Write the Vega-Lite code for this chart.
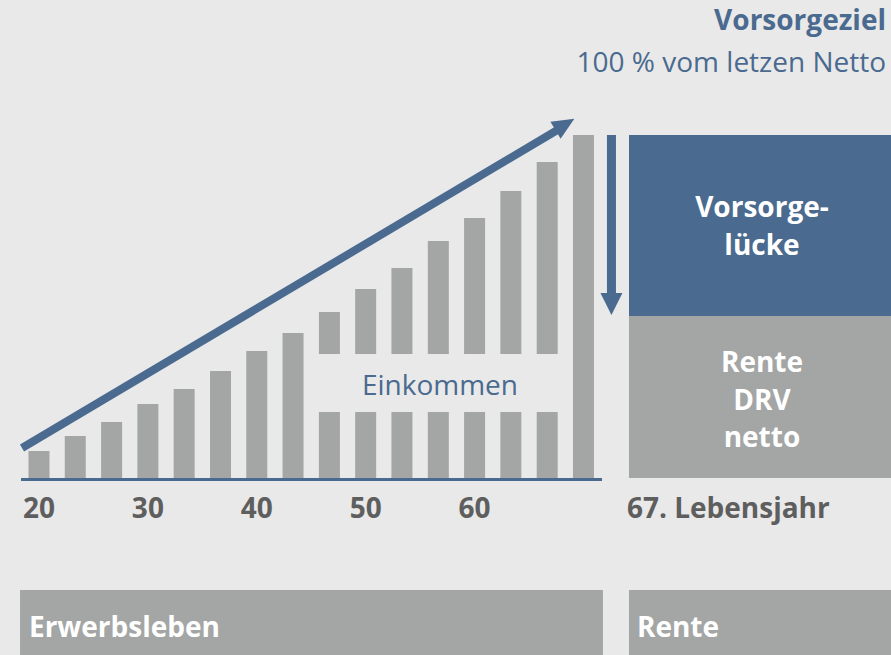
{
  "$schema": "https://vega.github.io/schema/vega-lite/v6.json",
  "width": 891,
  "height": 655,
  "autosize": {"type": "none"},
  "padding": 0,
  "background": "#e9e9e9",
  "config": {"view": {"stroke": null}},
  "datasets": {
    "bars": [
      {"age": 20, "lo": 0, "hi": 27},
      {"age": 23.33, "lo": 0, "hi": 42},
      {"age": 26.67, "lo": 0, "hi": 56},
      {"age": 30, "lo": 0, "hi": 74},
      {"age": 33.33, "lo": 0, "hi": 89},
      {"age": 36.67, "lo": 0, "hi": 107},
      {"age": 40, "lo": 0, "hi": 127},
      {"age": 43.33, "lo": 0, "hi": 145},
      {"age": 46.67, "lo": 0, "hi": 66},
      {"age": 46.67, "lo": 124, "hi": 166},
      {"age": 50, "lo": 0, "hi": 66},
      {"age": 50, "lo": 124, "hi": 189},
      {"age": 53.33, "lo": 0, "hi": 66},
      {"age": 53.33, "lo": 124, "hi": 210},
      {"age": 56.67, "lo": 0, "hi": 66},
      {"age": 56.67, "lo": 124, "hi": 237},
      {"age": 60, "lo": 0, "hi": 66},
      {"age": 60, "lo": 124, "hi": 260},
      {"age": 63.33, "lo": 0, "hi": 66},
      {"age": 63.33, "lo": 124, "hi": 287},
      {"age": 66.67, "lo": 0, "hi": 66},
      {"age": 66.67, "lo": 124, "hi": 316},
      {"age": 70, "lo": 0, "hi": 343}
    ],
    "panels": [
      {"name": "Vorsorgelücke", "kind": "blue", "x1": 74.18, "x2": 99, "y1": 162, "y2": 343},
      {"name": "Rente DRV netto", "kind": "gray", "x1": 74.18, "x2": 99, "y1": 0, "y2": 162},
      {"name": "Erwerbsleben", "kind": "gray", "x1": 18.26, "x2": 71.79, "y1": -112, "y2": -180},
      {"name": "Rente", "kind": "gray", "x1": 74.18, "x2": 99, "y1": -112, "y2": -180}
    ],
    "lines": [
      {"kind": "base", "x1": 18.35, "y1": -1.5, "x2": 71.7, "y2": -1.5},
      {"kind": "up", "x1": 18.44, "y1": 30, "x2": 67.84, "y2": 349.5},
      {"kind": "down", "x1": 72.57, "y1": 343, "x2": 72.57, "y2": 180}
    ],
    "heads": [
      {"kind": "up", "x": 68.3, "y": 353.5},
      {"kind": "down", "x": 72.57, "y": 174}
    ],
    "texts": [
      {"grp": "tick", "x": 20, "y": -40, "label": "20"},
      {"grp": "tick", "x": 30, "y": -40, "label": "30"},
      {"grp": "tick", "x": 40, "y": -40, "label": "40"},
      {"grp": "tick", "x": 50, "y": -40, "label": "50"},
      {"grp": "tick", "x": 60, "y": -40, "label": "60"},
      {"grp": "tickleft", "x": 73.99, "y": -40, "label": "67. Lebensjahr"},
      {"grp": "panel", "x": 86.39, "y": 261, "label": "Vorsorge-"},
      {"grp": "panel", "x": 86.39, "y": 223, "label": "lücke"},
      {"grp": "panel", "x": 86.39, "y": 106, "label": "Rente"},
      {"grp": "panel", "x": 86.39, "y": 68, "label": "DRV"},
      {"grp": "panel", "x": 86.39, "y": 31, "label": "netto"},
      {"grp": "bottom", "x": 19.08, "y": -159, "label": "Erwerbsleben"},
      {"grp": "bottom", "x": 74.91, "y": -159, "label": "Rente"},
      {"grp": "inner", "x": 56.82, "y": 83, "label": "Einkommen"},
      {"grp": "goal", "x": 97.78, "y": 448, "label": "Vorsorgeziel"},
      {"grp": "goalsub", "x": 97.78, "y": 406, "label": "100 % vom letzen Netto"}
    ]
  },
  "layer": [
    {
      "data": {"name": "panels"},
      "mark": {"type": "rect"},
      "encoding": {
        "x": {"field": "x1", "type": "quantitative", "scale": {"domain": [16.42, 98.24], "nice": false, "zero": false, "padding": 0}, "axis": null},
        "x2": {"field": "x2"},
        "y": {"field": "y1", "type": "quantitative", "scale": {"domain": [-177, 478], "nice": false, "zero": false, "padding": 0}, "axis": null},
        "y2": {"field": "y2"},
        "color": {"field": "kind", "type": "nominal", "scale": {"domain": ["blue", "gray"], "range": ["#4a6a8f", "#a3a6a5"]}, "legend": null}
      }
    },
    {
      "data": {"name": "bars"},
      "mark": {"type": "bar", "color": "#a3a6a5", "size": 21},
      "encoding": {
        "x": {"field": "age", "type": "quantitative", "axis": null},
        "y": {"field": "lo", "type": "quantitative", "axis": null},
        "y2": {"field": "hi"}
      }
    },
    {
      "data": {"name": "lines"},
      "transform": [{"filter": "datum.kind === 'base'"}],
      "mark": {"type": "rule", "color": "#4a6a8f", "strokeWidth": 3},
      "encoding": {
        "x": {"field": "x1", "type": "quantitative"},
        "x2": {"field": "x2"},
        "y": {"field": "y1", "type": "quantitative"},
        "y2": {"field": "y2"}
      }
    },
    {
      "data": {"name": "lines"},
      "transform": [{"filter": "datum.kind === 'up'"}],
      "mark": {"type": "rule", "color": "#4a6a8f", "strokeWidth": 8},
      "encoding": {
        "x": {"field": "x1", "type": "quantitative"},
        "x2": {"field": "x2"},
        "y": {"field": "y1", "type": "quantitative"},
        "y2": {"field": "y2"}
      }
    },
    {
      "data": {"name": "lines"},
      "transform": [{"filter": "datum.kind === 'down'"}],
      "mark": {"type": "rule", "color": "#4a6a8f", "strokeWidth": 9},
      "encoding": {
        "x": {"field": "x1", "type": "quantitative"},
        "x2": {"field": "x2"},
        "y": {"field": "y1", "type": "quantitative"},
        "y2": {"field": "y2"}
      }
    },
    {
      "data": {"name": "heads"},
      "transform": [{"filter": "datum.kind === 'up'"}],
      "mark": {"type": "point", "filled": true, "color": "#4a6a8f", "opacity": 1, "size": 484, "shape": "M0,-1L-0.9,1L0.9,1Z", "angle": 59, "strokeWidth": 0},
      "encoding": {
        "x": {"field": "x", "type": "quantitative"},
        "y": {"field": "y", "type": "quantitative"}
      }
    },
    {
      "data": {"name": "heads"},
      "transform": [{"filter": "datum.kind === 'down'"}],
      "mark": {"type": "point", "filled": true, "color": "#4a6a8f", "opacity": 1, "size": 484, "shape": "M0,-1L-1,1L1,1Z", "angle": 180, "strokeWidth": 0},
      "encoding": {
        "x": {"field": "x", "type": "quantitative"},
        "y": {"field": "y", "type": "quantitative"}
      }
    },
    {
      "data": {"name": "texts"},
      "transform": [{"filter": "datum.grp === 'tick'"}],
      "mark": {"type": "text", "font": "Open Sans", "fontWeight": "bold", "fontSize": 28, "color": "#5e5e5e", "align": "center", "baseline": "alphabetic"},
      "encoding": {
        "x": {"field": "x", "type": "quantitative"},
        "y": {"field": "y", "type": "quantitative"},
        "text": {"field": "label"}
      }
    },
    {
      "data": {"name": "texts"},
      "transform": [{"filter": "datum.grp === 'tickleft'"}],
      "mark": {"type": "text", "font": "Open Sans", "fontWeight": "bold", "fontSize": 28, "color": "#5e5e5e", "align": "left", "baseline": "alphabetic"},
      "encoding": {
        "x": {"field": "x", "type": "quantitative"},
        "y": {"field": "y", "type": "quantitative"},
        "text": {"field": "label"}
      }
    },
    {
      "data": {"name": "texts"},
      "transform": [{"filter": "datum.grp === 'panel'"}],
      "mark": {"type": "text", "font": "Open Sans", "fontWeight": "bold", "fontSize": 28, "color": "#ffffff", "align": "center", "baseline": "alphabetic"},
      "encoding": {
        "x": {"field": "x", "type": "quantitative"},
        "y": {"field": "y", "type": "quantitative"},
        "text": {"field": "label"}
      }
    },
    {
      "data": {"name": "texts"},
      "transform": [{"filter": "datum.grp === 'bottom'"}],
      "mark": {"type": "text", "font": "Open Sans", "fontWeight": "bold", "fontSize": 28, "color": "#ffffff", "align": "left", "baseline": "alphabetic"},
      "encoding": {
        "x": {"field": "x", "type": "quantitative"},
        "y": {"field": "y", "type": "quantitative"},
        "text": {"field": "label"}
      }
    },
    {
      "data": {"name": "texts"},
      "transform": [{"filter": "datum.grp === 'inner'"}],
      "mark": {"type": "text", "font": "Open Sans", "fontWeight": "normal", "fontSize": 28, "color": "#4a6a8f", "align": "center", "baseline": "alphabetic"},
      "encoding": {
        "x": {"field": "x", "type": "quantitative"},
        "y": {"field": "y", "type": "quantitative"},
        "text": {"field": "label"}
      }
    },
    {
      "data": {"name": "texts"},
      "transform": [{"filter": "datum.grp === 'goal'"}],
      "mark": {"type": "text", "font": "Open Sans", "fontWeight": "bold", "fontSize": 28, "color": "#4a6a8f", "align": "right", "baseline": "alphabetic"},
      "encoding": {
        "x": {"field": "x", "type": "quantitative"},
        "y": {"field": "y", "type": "quantitative"},
        "text": {"field": "label"}
      }
    },
    {
      "data": {"name": "texts"},
      "transform": [{"filter": "datum.grp === 'goalsub'"}],
      "mark": {"type": "text", "font": "Open Sans", "fontWeight": "normal", "fontSize": 28, "color": "#4a6a8f", "align": "right", "baseline": "alphabetic"},
      "encoding": {
        "x": {"field": "x", "type": "quantitative"},
        "y": {"field": "y", "type": "quantitative"},
        "text": {"field": "label"}
      }
    }
  ]
}
